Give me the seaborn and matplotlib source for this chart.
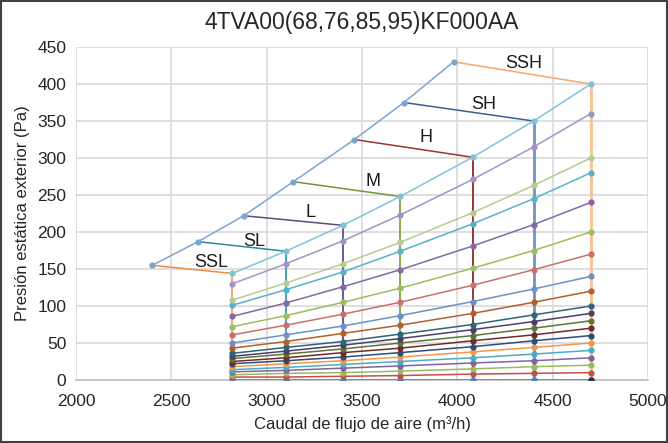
import matplotlib
matplotlib.use("Agg")
import matplotlib.pyplot as plt
import seaborn as sns
import pandas as pd
from matplotlib.patches import Rectangle

sns.set_theme(style="white")
plt.rcParams['font.family'] = ['Liberation Sans', 'DejaVu Sans']

# ---- data ----
flows = [2820, 3100, 3400, 3700, 4080, 4400, 4700]

curve_400 = [144, 174, 209, 248, 301, 350, 400]
curve_360 = [130, 157, 188, 223, 271, 315, 360]
curve_300 = [108, 131, 157, 186, 226, 263, 300]
curve_280 = [101, 122, 146, 174, 211, 245, 280]
curve_240 = [86, 104, 126, 149, 181, 210, 240]
curve_200 = [72, 87, 105, 124, 151, 175, 200]
curve_170 = [61, 74, 89, 105, 128, 149, 170]
curve_140 = [50, 61, 73, 87, 106, 123, 140]
curve_120 = [43, 52, 63, 74, 90, 105, 120]
curve_100 = [36, 44, 52, 62, 75, 88, 100]
curve_90 = [32, 39, 47, 56, 68, 79, 90]
curve_80 = [29, 35, 42, 50, 60, 70, 80]
curve_70 = [25, 30, 37, 43, 53, 61, 70]
curve_60 = [22, 26, 31, 37, 45, 53, 60]
curve_50 = [18, 22, 26, 31, 38, 44, 50]
curve_40 = [14, 17, 21, 25, 30, 35, 40]
curve_30 = [11, 13, 16, 19, 23, 26, 30]
curve_20 = [7, 9, 10, 12, 15, 18, 20]
curve_10 = [4, 4, 5, 6, 8, 9, 10]
curve_0 = [0, 0, 0, 0, 0, 0, 0]

curves = [curve_0, curve_10, curve_20, curve_30, curve_40, curve_50, curve_60,
          curve_70, curve_80, curve_90, curve_100, curve_120, curve_140,
          curve_170, curve_200, curve_240, curve_280, curve_300, curve_360,
          curve_400]
curve_colors = ["#4F81BD", "#C0504D", "#9BBB59", "#8064A2", "#4BACC6", "#F79646",
                "#2D4E78", "#722B2A", "#5E7533", "#4C3D69", "#2E6577", "#B0602A",
                "#6A92C8", "#CB6F6C", "#9DBD5E", "#8468A8", "#5AB0C9", "#B5CC8E",
                "#A393C4", "#7FC4D6"]

env_flow = [2400, 2640, 2880, 3140, 3460, 3720, 3980]
env_pres = [155, 187, 222, 268, 325, 375, 430]

speed_names = ["SSL", "SL", "L", "M", "H", "SH", "SSH"]
speed_end_flow = [2820, 3100, 3400, 3700, 4080, 4400, 4700]
speed_end_pres = [144, 174, 209, 248, 301, 350, 400]
label_x = [2708, 2933, 3232, 3557, 3835, 4139, 4349]
label_y = [159, 187, 226, 268, 328, 372, 428]

speed_colors = ["#F58A3E", "#31849B", "#60497A", "#77933C", "#953735", "#376092", "#F9A56B"]
vert_colors = ["#F6A66A", "#4A9FB8", "#6E5A92", "#8AAA4E", "#953735", "#6F94C0", "#FAC090"]
vert_widths = [1.4, 1.4, 1.4, 1.4, 1.4, 2.0, 2.0]

# ---- figure ----
fig = plt.figure(figsize=(6.68, 4.43), dpi=100)
ax = fig.add_axes([76/668, 1-380/443, 572/668, 333/443])

ms = 4.5
# vertical lines
for fx, fy, c, w in zip(speed_end_flow, speed_end_pres, vert_colors, vert_widths):
    d = pd.DataFrame({"x": [fx, fx], "y": [fy, 0]})
    sns.lineplot(data=d, x="x", y="y", sort=False, estimator=None, color=c,
                 linewidth=w, ax=ax, zorder=2)

# speed lines
for ex, ey, fx, fy, c in zip(env_flow, env_pres, speed_end_flow, speed_end_pres, speed_colors):
    d = pd.DataFrame({"x": [ex, fx], "y": [ey, fy]})
    sns.lineplot(data=d, x="x", y="y", sort=False, estimator=None, color=c,
                 linewidth=1.1, ax=ax, zorder=3)

# fan curves
for vals, c in zip(curves, curve_colors):
    d = pd.DataFrame({"x": flows, "y": vals})
    sns.lineplot(data=d, x="x", y="y", sort=False, estimator=None, color=c,
                 linewidth=1.1, marker="o", markersize=ms, markeredgewidth=0,
                 ax=ax, zorder=4)

# dark point at end of bottom series
sns.scatterplot(x=[flows[-1]], y=[curve_0[-1]], color="#33334D", s=22,
                linewidth=0, ax=ax, zorder=5)

# envelope
d = pd.DataFrame({"x": env_flow, "y": env_pres})
sns.lineplot(data=d, x="x", y="y", sort=False, estimator=None, color="#7EA4D2",
             linewidth=1.1, marker="o", markersize=ms, markeredgewidth=0,
             ax=ax, zorder=5)

for name, lx, ly in zip(speed_names, label_x, label_y):
    ax.text(lx, ly, name, ha="center", va="center", fontsize=13, color="#1a1a1a")

ax.set_xlim(2000, 5000)
ax.set_ylim(0, 450)
ax.set_xticks(range(2000, 5001, 500))
ax.set_yticks(range(0, 451, 50))
ax.grid(True, color="#D9D9D9", linewidth=1.2)
ax.set_axisbelow(True)
for s in ax.spines.values():
    s.set_visible(False)
ax.spines["bottom"].set_visible(True)
ax.spines["bottom"].set_color("#BFBFBF")
ax.spines["bottom"].set_linewidth(1.2)
ax.tick_params(axis="x", labelsize=12.5, colors="#262626", length=0, pad=10)
ax.tick_params(axis="y", labelsize=12.5, colors="#262626", length=0, pad=7)
ax.set_xlabel("Caudal de flujo de aire (m³/h)", fontsize=12, color="#262626", labelpad=5)
ax.set_ylabel("Presión estática exterior (Pa)", fontsize=12, color="#262626", labelpad=5)
ax.set_title("4TVA00(68,76,85,95)KF000AA", fontsize=16.5, color="#262626", pad=13)

fig.patches.append(Rectangle((0.002, 0.003), 0.996, 0.994, transform=fig.transFigure,
                             fill=False, edgecolor="#404040", linewidth=1.5))

fig.savefig("out.png", dpi=100)
